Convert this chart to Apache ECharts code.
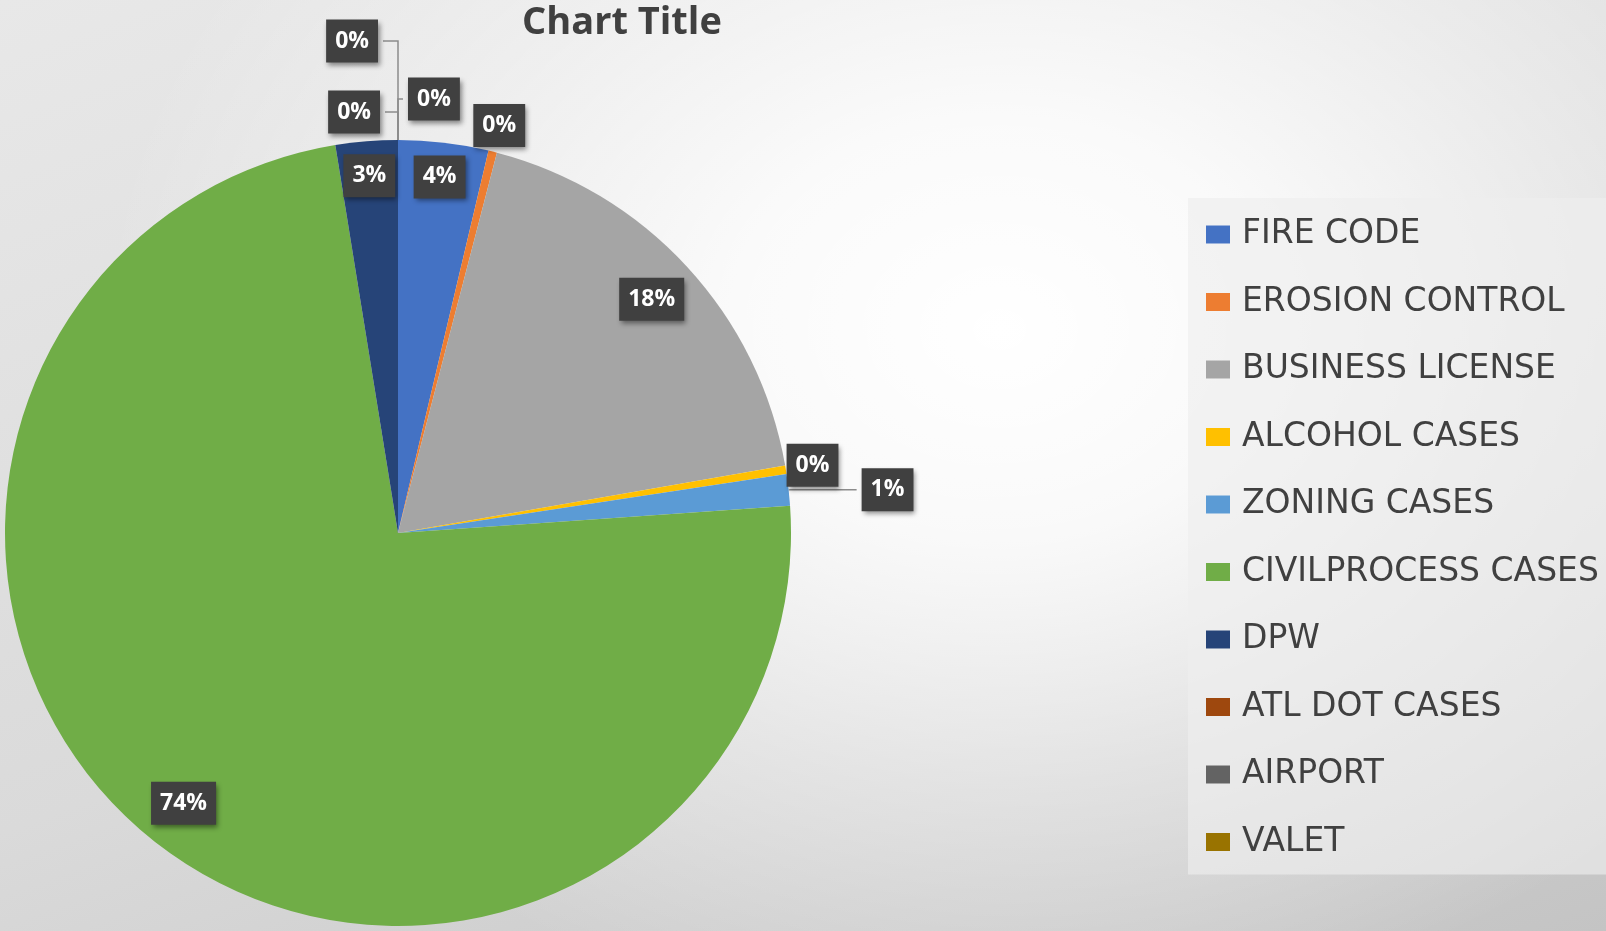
<!DOCTYPE html>
<html>
<head>
<meta charset="utf-8">
<script src="https://cdn.jsdelivr.net/npm/echarts@6/dist/echarts.min.js"></script>
<style>
html, body { margin: 0; padding: 0; width: 1606px; height: 931px; overflow: hidden; }
body {
  background:
    radial-gradient(ellipse 900px 700px at 1000px 330px,
      rgba(255,255,255,1) 0%, rgba(255,255,255,0.85) 30%, rgba(255,255,255,0.4) 65%, rgba(255,255,255,0) 100%),
    linear-gradient(160deg, #e8e8e8 0%, #dadada 55%, #c4c4c4 100%);
}
#chart { width: 1606px; height: 931px; }
</style>
</head>
<body>
<div id="chart"></div>
<script>
// ---- data ----
const categories = ['FIRE CODE', 'EROSION CONTROL', 'BUSINESS LICENSE', 'ALCOHOL CASES', 'ZONING CASES',
                    'CIVILPROCESS CASES', 'DPW', 'ATL DOT CASES', 'AIRPORT', 'VALET'];
const values = [3.7, 0.35, 18.2, 0.35, 1.3, 73.55, 2.55, 0, 0, 0];

// ---- style ----
const colors = ['#4472C4', '#ED7D31', '#A5A5A5', '#FFC000', '#5B9BD5',
                '#70AD47', '#264478', '#9E480E', '#636363', '#997300'];
// where each data label sits:
//  'inside' = inside the slice, 'edge' = inside near the rim, 'ring' = just outside the rim,
//  'outside' = outside with a leader line
const labelPlace = ['edge', 'ring', 'inside', 'ring', 'outside', 'inside', 'edge', 'outside', 'outside', 'outside'];
const leadLen  = [0, 0, 0, 0, 2, 0, 0, 99, 28, 41];
const leadLen2 = [0, 0, 0, 0, 66, 0, 0, 15, 13, 5];
// drawing order of slices (zero-size slices split around 12 o'clock so their labels fall on both sides)
const sliceOrder = [7, 8, 0, 1, 2, 3, 4, 5, 6, 9];

const CENTER = [398, 533];
const R = 393;

const pctFmt = p => Math.round(p.percent) + '%';
const boxLabel = {
  color: '#ffffff', fontFamily: 'Open Sans', fontWeight: 'bold', fontSize: 23, lineHeight: 25,
  backgroundColor: '#404040', padding: [9, 9, 9, 9],
  shadowBlur: 5, shadowOffsetX: 2, shadowOffsetY: 3, shadowColor: 'rgba(0,0,0,0.45)',
  formatter: pctFmt
};

const mainData = sliceOrder.map(i => ({
  name: categories[i], value: values[i], itemStyle: { color: colors[i] }
}));

// transparent label-carrier ring: shows labels of the given placement kinds
function labelRing(kinds) {
  return sliceOrder.map(i => {
    const place = labelPlace[i];
    const show = kinds.indexOf(place) >= 0;
    return {
      name: categories[i], value: values[i],
      itemStyle: { color: 'rgba(0,0,0,0)' },
      label: Object.assign({}, boxLabel, { show: show, position: place === 'outside' ? 'outside' : 'inside' }),
      labelLine: { show: show && place === 'outside', length: leadLen[i], length2: leadLen2[i], smooth: false,
                   lineStyle: { color: '#8c8c8c', width: 1.5 } }
    };
  });
}

const carrier = (name, radius, kinds) => ({
  type: 'pie', name: name, center: CENTER, radius: radius, startAngle: 90, clockwise: true,
  silent: true, avoidLabelOverlap: false, emphasis: { disabled: true },
  data: labelRing(kinds)
});

const chart = echarts.init(document.getElementById('chart'), null, { renderer: 'canvas' });
chart.setOption({
  backgroundColor: 'transparent',
  animation: false,
  title: {
    text: 'Chart Title', left: 522, top: 4, padding: 0,
    textStyle: { fontFamily: 'Open Sans', fontWeight: 'bold', fontSize: 38, color: '#404040' }
  },
  legend: {
    orient: 'vertical', left: 1188, top: 198,
    padding: [20, 29, 16, 18],
    itemGap: 34.5, itemWidth: 24, itemHeight: 18, icon: 'rect',
    data: categories,
    backgroundColor: 'rgba(238,238,238,0.65)',
    textStyle: { fontFamily: 'DejaVu Sans', fontSize: 33, lineHeight: 30, color: '#404040', padding: [0, 0, 0, 7] }
  },
  series: [
    {
      type: 'pie', name: 'cases', center: CENTER, radius: R, startAngle: 90, clockwise: true,
      data: mainData, label: { show: false }, labelLine: { show: false },
      itemStyle: { borderWidth: 0 }, emphasis: { scale: false }
    },
    carrier('labelsInside', [291, R], ['inside', 'outside']),
    carrier('labelsEdge', [318, R], ['edge']),
    carrier('labelsRing', [R, R + 48], ['ring'])
  ]
});
</script>
</body>
</html>
